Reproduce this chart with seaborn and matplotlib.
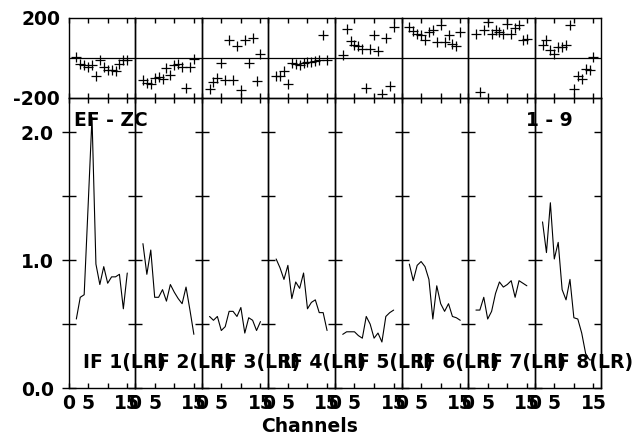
import matplotlib
matplotlib.use("Agg")
import matplotlib.pyplot as plt
import seaborn as sns

# channels used in every IF (same for phase and amplitude)
channels = list(range(2, 16))

phase_if1 = [4, -28, -37, -45, -37, -91, -8, -45, -62, -62, -65, -28, -12, -8]
phase_if2 = [-108, -123, -128, -100, -95, -107, -50, -83, -37, -32, -45, -150, -45, -3]
phase_if3 = [-153, -120, -98, -25, -108, 88, -112, 58, -158, 88, -25, 102, -115, 18]
phase_if4 = [-91, -91, -65, -128, -25, -32, -37, -25, -20, -20, -17, -12, 113, -8]
phase_if5 = [13, 143, 83, 67, 60, 47, -150, 47, 117, 33, -178, 100, -140, 155]
phase_if6 = [155, 135, 122, 117, 88, 128, 142, 80, 163, 80, 113, 68, 58, 130]
phase_if7 = [118, -170, 142, 180, 118, 142, 130, 118, 168, 122, 152, 163, 92, 97]
phase_if8 = [67, 88, 38, 22, 55, 55, 63, 167, -153, -90, -107, -57, -62, 5]

# amplitude per IF, lower panels
amp_if1 = [0.54, 0.71, 0.73, 1.42, 2.12, 0.97, 0.81, 0.95, 0.82, 0.87, 0.87, 0.89, 0.62, 0.90]
amp_if2 = [1.13, 0.89, 1.08, 0.71, 0.71, 0.77, 0.68, 0.81, 0.75, 0.70, 0.66, 0.79, 0.61, 0.42]
amp_if3 = [0.56, 0.53, 0.56, 0.45, 0.48, 0.60, 0.60, 0.56, 0.63, 0.43, 0.55, 0.53, 0.45, 0.52]
amp_if4 = [1.01, 0.94, 0.85, 0.96, 0.70, 0.83, 0.78, 0.90, 0.62, 0.67, 0.69, 0.59, 0.59, 0.45]
amp_if5 = [0.42, 0.44, 0.44, 0.44, 0.41, 0.39, 0.56, 0.50, 0.39, 0.43, 0.36, 0.56, 0.59, 0.61]
amp_if6 = [0.97, 0.84, 0.96, 0.99, 0.95, 0.85, 0.54, 0.80, 0.66, 0.60, 0.66, 0.56, 0.55, 0.53]
amp_if7 = [0.61, 0.61, 0.71, 0.54, 0.60, 0.74, 0.83, 0.79, 0.81, 0.84, 0.71, 0.84, 0.82, 0.80]
amp_if8 = [1.30, 1.06, 1.45, 1.01, 1.14, 0.77, 0.69, 0.85, 0.55, 0.54, 0.43, 0.27, 0.22, 0.22]

phases = [phase_if1, phase_if2, phase_if3, phase_if4, phase_if5, phase_if6, phase_if7, phase_if8]
amps = [amp_if1, amp_if2, amp_if3, amp_if4, amp_if5, amp_if6, amp_if7, amp_if8]
if_labels = [f"IF {i}(LR)" for i in range(1, 9)]

x_ticks = [0, 5, 10, 15]
x_ticklabels = ["0", "5", "", "15"]
amp_ticks = [0.0, 0.5, 1.0, 1.5, 2.0]
amp_ticklabels = ["0.0", "", "1.0", "", "2.0"]

sns.set_style("ticks")
plt.rcParams["font.family"] = ["DejaVu Sans"]
plt.rcParams["font.weight"] = "bold"
plt.rcParams["font.size"] = 13.5
plt.rcParams["axes.linewidth"] = 1.0
for key in ["text.color", "axes.labelcolor", "xtick.color", "ytick.color", "axes.edgecolor"]:
    plt.rcParams[key] = "black"

W, H = 641, 440
fig = plt.figure(figsize=(W / 100, H / 100), dpi=100)

x0 = 68.5
pw = 66.6
top_top, top_bot, bot_bot = 18, 98, 388

for i in range(8):
    left = (x0 + i * pw) / W
    ax_p = fig.add_axes([left, 1 - top_bot / H, pw / W, (top_bot - top_top) / H])
    ax_a = fig.add_axes([left, 1 - bot_bot / H, pw / W, (bot_bot - top_bot) / H])
    for ax in (ax_p, ax_a):
        ax.patch.set_alpha(0)
        for s in ax.spines.values():
            s.set_visible(True)
            s.set_color("black")
        ax.set_xlim(0, 17)
        ax.set_xticks(x_ticks)
        ax.tick_params(axis="x", which="major", top=True, bottom=True,
                       direction="in", length=3.5, width=1.0, color="black")

    # phase strip
    ax_p.axhline(0, color="black", lw=0.9)
    sns.scatterplot(x=channels, y=phases[i], ax=ax_p, marker="+", color="black",
                    s=45, linewidth=0.9)
    ax_p.set_ylim(-200, 200)
    ax_p.set_xticklabels([])
    ax_p.set_yticks([-200, 200])
    ax_p.tick_params(axis="y", length=0, pad=6)
    if i == 0:
        ax_p.set_yticklabels(["-200", "200"])
    else:
        ax_p.set_yticklabels([])

    # amplitude
    sns.lineplot(x=channels, y=amps[i], ax=ax_a, color="black", linewidth=0.8)
    ax_a.set_ylim(0, 2.27)
    ax_a.set_yticks(amp_ticks)
    ax_a.tick_params(axis="y", left=True, right=False, direction="inout",
                     length=9.4, width=1.0, pad=6, color="black")
    ax_a.set_xticklabels(x_ticklabels)
    ax_a.tick_params(axis="x", pad=4)
    if i == 0:
        ax_a.set_yticklabels(amp_ticklabels)
    else:
        ax_a.set_yticklabels([])
    ax_a.set_xlabel("")
    ax_a.set_ylabel("")
    ax_p.set_xlabel("")
    ax_p.set_ylabel("")

    ax_a.text(3.8, 0.16, if_labels[i], ha="left", va="baseline", clip_on=False,
              fontweight="bold", color="black")

    if i == 0:
        ax_a.text(1.4, 2.05, "EF - ZC", ha="left", va="baseline", fontweight="bold")
    if i == 7:
        ax_a.text(9.8, 2.05, "1 - 9", ha="right", va="baseline", fontweight="bold")
        sec = ax_a.secondary_yaxis("right")
        sec.set_yticks(amp_ticks)
        sec.set_yticklabels([])
        sec.tick_params(direction="in", length=4.7, width=1.0, color="black")

fig.text(310 / W, 1 - 426 / H, "Channels", ha="center", va="center",
         fontweight="bold", color="black")

fig.savefig("out.png", dpi=100)
